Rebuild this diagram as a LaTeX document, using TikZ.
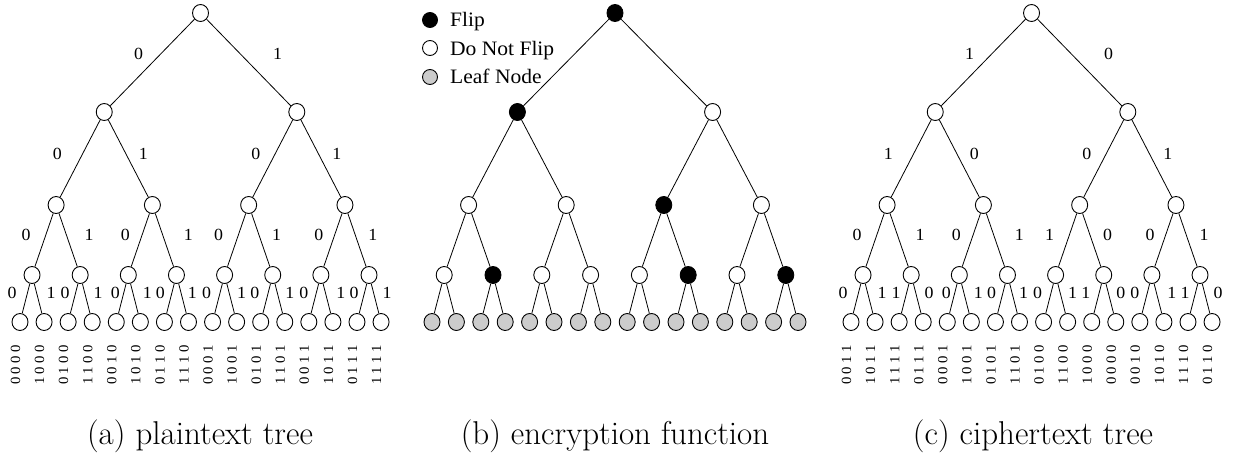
\documentclass[tikz,border=0pt]{standalone}
\usepackage{fontspec}
\newfontfamily\tms[FakeStretch=1.05]{Liberation Serif}
\usetikzlibrary{shapes.geometric}
\definecolor{leafgrey}{gray}{0.8}
\newcommand\digs[4]{#1\kern3.5pt#2\kern3.5pt#3\kern3.5pt#4}
\tikzset{
  nd/.style={ellipse, draw, line width=0.9pt, minimum width=16pt, minimum height=17pt, inner sep=0pt, fill=white},
  legnd/.style={nd, minimum width=15pt, minimum height=15pt},
  flipnode/.style={fill=black},
  leafnode/.style={fill=leafgrey},
  edgeline/.style={line width=0.8pt},
  bitlabel/.style={font=\tms\fontsize{17}{17}\selectfont, inner sep=0pt},
  leafcode/.style={font=\tms\fontsize{14}{14}\selectfont, rotate=90, inner sep=0pt},
  legtext/.style={font=\tms\fontsize{20.5}{21}\selectfont, inner sep=0pt, anchor=base west},
  captext/.style={font=\fontsize{33}{34}\selectfont, inner sep=0pt, anchor=base},
  lvb4/.style={leafnode},
  cb00/.style={flipnode}, cb10/.style={flipnode}, cb22/.style={flipnode},
  cb31/.style={flipnode}, cb35/.style={flipnode}, cb37/.style={flipnode}
}
\begin{document}
\begin{tikzpicture}[x=1pt,y=-1pt]
\useasboundingbox (0,0) rectangle (1238,455);
% trees
\foreach \t/\ox/\s in {a/20/24.07,b/432/24.4,c/851/24.07}{
  \foreach \d/\yy in {0/13,1/112,2/205,3/275,4/322}{
    \pgfmathtruncatemacro\n{2^\d-1}
    \foreach \k in {0,...,\n}{
      \pgfmathsetmacro\cx{\ox+\s*((\k+0.5)*2^(4-\d)-0.5)}
      \node[nd, lv\t\d/.try, c\t\d\k/.try] (\t\d-\k) at (\cx,\yy) {};
      \ifnum\d>0
        \pgfmathtruncatemacro\pd{\d-1}
        \pgfmathtruncatemacro\pk{floor(\k/2)}
        \draw[edgeline] (\t\pd-\pk) -- (\t\d-\k);
      \fi
    }
  }
}
% edge labels of trees (a) and (c)
\foreach \d/\k/\o/\cb in {1/0/-62/1,1/1/77/0,
  2/0/-47/1,2/1/39/0,2/2/-41/0,2/3/40/1,
  3/0/-30/0,3/1/33/1,3/2/-27/0,3/3/36/1,3/4/-30/1,3/5/28/0,3/6/-26/0,3/7/28/1,
  4/0/-20/0,4/1/19/1,4/2/-15/1,4/3/18/0,4/4/-13/0,4/5/19/1,4/6/-16/0,4/7/16/1,
  4/8/-18/0,4/9/17/1,4/10/-18/1,4/11/17/0,4/12/-17/0,4/13/20/1,4/14/-15/1,4/15/18/0}{
  \pgfmathtruncatemacro\pd{\d-1}
  \pgfmathtruncatemacro\pk{floor(\k/2)}
  \pgfmathtruncatemacro\ab{mod(\k,2)}
  \pgfmathsetmacro\ly{{54,154,235,293}[\pd]}
  \pgfmathsetmacro\rel{24.07*((\pk+0.5)*2^(4-\pd)-0.5)+\o}
  \node[bitlabel] (la\d-\k) at (20+\rel,\ly) {\ab};
  \node[bitlabel] (lc\d-\k) at (851+\rel,\ly) {\cb};
}
% leaf codes
\foreach \k/\ca/\cc in {0/0000/0011,1/1000/1011,2/0100/1111,3/1100/0111,
  4/0010/0001,5/1010/1001,6/0110/0101,7/1110/1101,
  8/0001/0100,9/1001/1100,10/0101/1000,11/1101/0000,
  12/0011/0010,13/1011/1010,14/0111/1110,15/1111/0110}{
  \node[leafcode] (ka-\k) at ([shift={(-4.5,43)}]a4-\k.center) {\expandafter\digs\ca};
  \node[leafcode] (kc-\k) at ([shift={(-4.5,43)}]c4-\k.center) {\expandafter\digs\cc};
}
% legend
\node[legnd, flipnode] (lg1) at (430,20) {};
\node[legnd] (lg2) at (430,48) {};
\node[legnd, leafnode] (lg3) at (430,77) {};
\node[legtext] (lt1) at (450,26.5) {Flip};
\node[legtext] (lt2) at (450,55.5) {Do Not Flip};
\node[legtext] (lt3) at (450,83.5) {Leaf Node};
% captions
\node[captext] (capa) at (200,444) {(a) plaintext tree};
\node[captext] (capb) at (615,444) {(b) encryption function};
\node[captext] (capc) at (1033,444) {(c) ciphertext tree};
\end{tikzpicture}
\end{document}
